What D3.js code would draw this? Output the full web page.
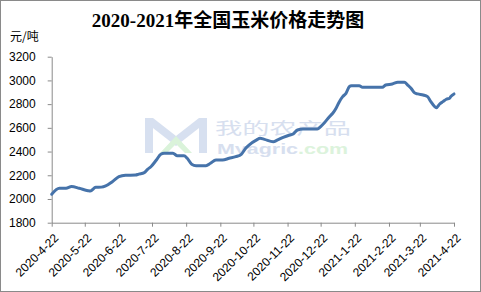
<!DOCTYPE html>
<html>
<head>
<meta charset="utf-8">
<script src="https://cdn.jsdelivr.net/npm/d3@7"></script>
<style>
  body { margin: 0; background: #fff; }
  svg { display: block; }
  .tick text { font-family: "Liberation Sans", Arial, sans-serif; font-size: 12px; fill: #000; }
</style>
</head>
<body>
<div id="chart"></div>
<script>
// price data (yuan / ton)
var dates = [
  "2020-04-22", "2020-04-29", "2020-05-05", "2020-05-10", "2020-05-17", "2020-05-25",
  "2020-05-27", "2020-06-01", "2020-06-06", "2020-06-10", "2020-06-16", "2020-06-22",
  "2020-06-28", "2020-07-07", "2020-07-10", "2020-07-15", "2020-07-18", "2020-07-21",
  "2020-07-26", "2020-07-30", "2020-08-02", "2020-08-10", "2020-08-14", "2020-08-20",
  "2020-08-23", "2020-08-27", "2020-08-31", "2020-09-09", "2020-09-13", "2020-09-18",
  "2020-09-24", "2020-09-30", "2020-10-06", "2020-10-11", "2020-10-15", "2020-10-18",
  "2020-10-25", "2020-10-28", "2020-11-01", "2020-11-09", "2020-11-13", "2020-11-18",
  "2020-11-24", "2020-11-27", "2020-12-01", "2020-12-06", "2020-12-19", "2020-12-22",
  "2020-12-25", "2020-12-30", "2021-01-02", "2021-01-05", "2021-01-08", "2021-01-11",
  "2021-01-14", "2021-01-17", "2021-01-19", "2021-01-26", "2021-01-29", "2021-02-16",
  "2021-02-19", "2021-02-25", "2021-03-02", "2021-03-08", "2021-03-11", "2021-03-14",
  "2021-03-17", "2021-03-20", "2021-03-25", "2021-03-29", "2021-04-01", "2021-04-04",
  "2021-04-06", "2021-04-09", "2021-04-12", "2021-04-15", "2021-04-18", "2021-04-19",
  "2021-04-22"
];
var prices = [
  2040, 2090, 2090, 2105, 2090, 2070,
  2068, 2098, 2100, 2110, 2146, 2188,
  2200, 2202, 2210, 2222, 2250, 2272,
  2329, 2377, 2385, 2385, 2365, 2365,
  2343, 2293, 2281, 2281, 2301, 2329,
  2329, 2343, 2357, 2377, 2428, 2455,
  2498, 2512, 2503, 2483, 2498, 2520,
  2540, 2548, 2582, 2590, 2590, 2610,
  2638, 2694, 2723, 2765, 2821, 2863,
  2891, 2947, 2955, 2955, 2942, 2942,
  2961, 2970, 2984, 2984, 2961, 2934,
  2897, 2886, 2877, 2863, 2821, 2784,
  2770, 2801, 2821, 2841, 2849, 2863,
  2886
];
var tickDates = [
  "2020-4-22", "2020-5-22", "2020-6-22", "2020-7-22", "2020-8-22", "2020-9-22",
  "2020-10-22", "2020-11-22", "2020-12-22", "2021-1-22", "2021-2-22", "2021-3-22",
  "2021-4-22"
];
var yTicks = [1800, 2000, 2200, 2400, 2600, 2800, 3000, 3200];

var width = 481, height = 292;
var margin = {top: 56.7, right: 27, bottom: 69.3, left: 51.7};

var parse = d3.timeParse("%Y-%m-%d");
var data = dates.map(function(d, i) { return {date: parse(d), value: prices[i]}; });
var ticks = tickDates.map(function(d) { return parse(d); });

var svg = d3.select("#chart").append("svg")
    .attr("width", width)
    .attr("height", height);

svg.append("rect")
    .attr("x", 0.5).attr("y", 0.5)
    .attr("width", width - 1).attr("height", height - 1)
    .attr("fill", "#fff")
    .attr("stroke", "#8a8a8a");

var x = d3.scaleTime()
    .domain([ticks[0], ticks[ticks.length - 1]])
    .range([margin.left, width - margin.right]);
var y = d3.scaleLinear()
    .domain([1800, 3200])
    .range([height - margin.bottom, margin.top]);

// watermark
var wm = svg.append("g").attr("opacity", 0.9);
wm.append("path")
    .attr("d", "M145,118 L153,118 L176,136 L199,118 L207,118 L207,153 L199,153 L199,128 L176,146 L153,128 L153,153 L145,153 Z")
    .attr("fill", "#d3ddef");
wm.append("path")
    .attr("d", "M160,153 L176,136 L192,153 L185,153 L176,144 L167,153 Z")
    .attr("fill", "#d6f2d6");
wm.append("text")
    .attr("transform", "translate(215,134) scale(1.7,1)")
    .attr("font-family", "Noto Sans CJK SC")
    .attr("font-size", 16)
    .attr("fill", "#d3dcee")
    .text("我的农产品");
var wmt = wm.append("text")
    .attr("transform", "translate(217,154) scale(1.43,1)")
    .attr("font-family", "Liberation Sans")
    .attr("font-weight", "bold")
    .attr("font-size", 15);
wmt.append("tspan").attr("fill", "#d3dcee").text("Myagric");
wmt.append("tspan").attr("fill", "#d9f2d9").text(".com");

// axes
var xAxis = svg.append("g")
    .attr("transform", "translate(0," + (height - margin.bottom) + ")")
    .call(d3.axisBottom(x).tickValues(ticks).tickSize(4).tickSizeOuter(0)
      .tickFormat(function(d, i) { return tickDates[i]; }));
xAxis.selectAll(".tick text")
    .attr("text-anchor", "end")
    .attr("dy", null)
    .attr("y", 0)
    .attr("transform", "translate(7,16) rotate(-45)");

var yAxis = svg.append("g")
    .attr("transform", "translate(" + margin.left + ",0)")
    .call(d3.axisLeft(y).tickValues(yTicks).tickSize(4).tickSizeOuter(0).tickPadding(12)
      .tickFormat(d3.format("d")));

svg.selectAll(".domain, .tick line").attr("stroke", "#8a8a8a");

// line
var line = d3.line()
    .x(function(d) { return x(d.date); })
    .y(function(d) { return y(d.value); })
    .curve(d3.curveMonotoneX);

svg.append("path")
    .datum(data)
    .attr("fill", "none")
    .attr("stroke", "#4673aa")
    .attr("stroke-width", 3)
    .attr("stroke-linejoin", "round")
    .attr("stroke-linecap", "round")
    .attr("d", line);

// titles
svg.append("text")
    .attr("x", 228).attr("y", 27)
    .attr("text-anchor", "middle")
    .attr("font-family", "'Liberation Serif', 'Noto Sans CJK SC', serif")
    .attr("font-weight", "bold")
    .attr("font-size", 19)
    .text("2020-2021年全国玉米价格走势图");

svg.append("text")
    .attr("x", 10).attr("y", 41)
    .attr("font-family", "'Noto Sans CJK SC', sans-serif")
    .attr("font-size", 12)
    .text("元/吨");
</script>
</body>
</html>
